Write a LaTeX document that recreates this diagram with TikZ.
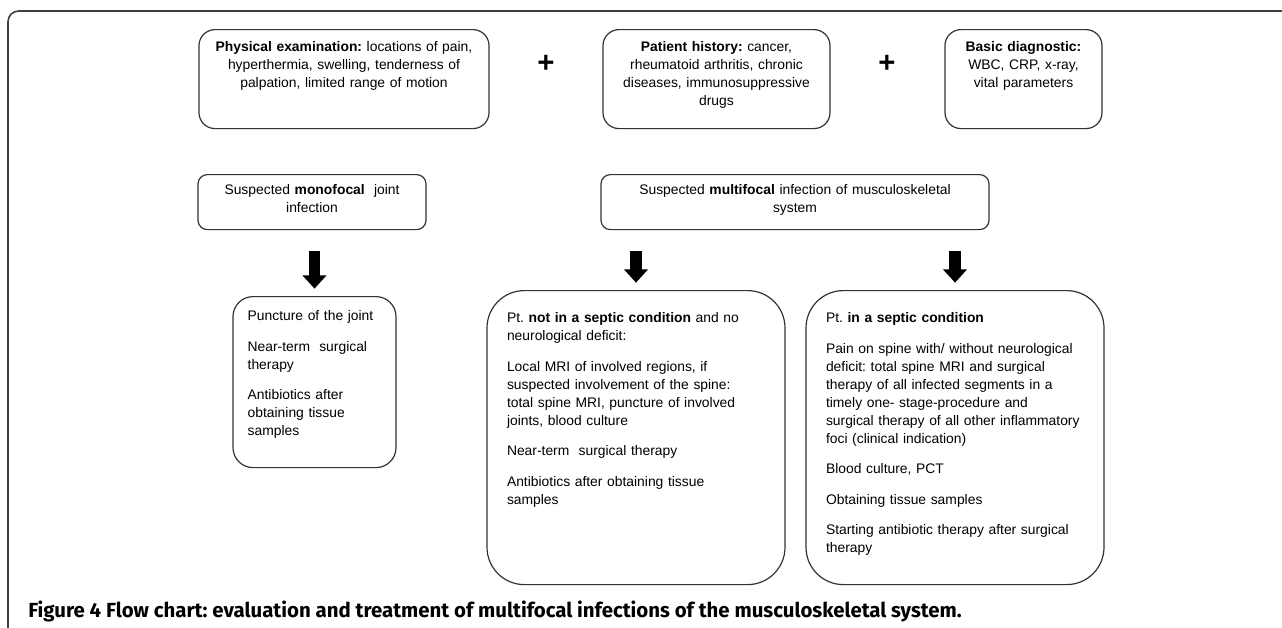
\documentclass[tikz,border=0pt]{standalone}
\usepackage{fontspec}
\setmainfont{Liberation Sans}
\newfontfamily\capfont{Fira Sans}
\usetikzlibrary{arrows.meta}
\frenchspacing

\begin{document}
\begin{tikzpicture}[
    x=0.75pt, y=-0.75pt,
    every node/.style = {
      font=\fontsize{10.4}{13.5}\selectfont,
      inner sep=0pt
    },
    card/.style = {
      draw=black!80, line width=0.9pt,
      anchor=north, text height=8pt
    },
    topcard/.style = {
      card, rounded corners=12pt, align=center,
      inner xsep=5pt, inner ysep=8.5pt, text depth=49.25pt
    },
    midcard/.style = {
      card, rounded corners=7pt, align=center,
      inner xsep=5pt, inner ysep=7pt, text depth=19.25pt
    },
    bigcard/.style = {
      card, rounded corners=28pt, align=left,
      inner xsep=15pt, inner ysep=16pt, text depth=180.5pt,
      text width=193.5pt
    },
    bigarrow/.style = {
      line width=8.5pt, -{Triangle[width=17.5pt,length=10pt]},
      shorten <=15.75pt, shorten >=5.5pt
    },
    frame/.style = {
      draw=black!75, line width=1.2pt, rounded corners=8pt
    }
  ]
    \useasboundingbox (0,0) rectangle (1282,628);
    \draw[frame] (8,660) -- (8,11) -- (1320,11);

    % First findings
    \node[topcard, text width=207.5pt] (exam) at (344,29)
      {\textbf{Physical examination:} locations of pain,\\
       hyperthermia, swelling, tenderness of\\
       palpation, limited range of motion};
    \node[topcard, text width=160.25pt] (history) at (716.5,29)
      {\textbf{Patient history:} cancer,\\
       rheumatoid arthritis, chronic\\
       diseases, immunosuppressive\\
       drugs};
    \node[topcard, text width=107.75pt] (basic) at (1023.5,29)
      {\textbf{Basic diagnostic:}\\
       WBC, CRP, x-ray,\\
       vital parameters};
    \node[font=\fontsize{22}{24}\selectfont\bfseries] (plusa) at (546,64) {+};
    \node[font=\fontsize{22}{24}\selectfont\bfseries] (plusb) at (887,64) {+};

    % Suspicion
    \node[midcard, text width=161pt] (mono) at (312,174)
      {Suspected \textbf{monofocal}\ \ joint\\ infection};
    \node[midcard, text width=281pt] (multi) at (795,174)
      {Suspected \textbf{multifocal} infection of musculoskeletal\\ system};

    % Treatment
    \node[card, rounded corners=15pt, align=left, inner xsep=11pt,
      inner ysep=10pt, text width=100.25pt, text depth=100.25pt]
      (puncture) at (314.5,296)
      {Puncture of the joint\\[9.4pt]
       Near-term\ \ surgical\\ therapy\\[9.4pt]
       Antibiotics after\\ obtaining tissue\\ samples};
    \node[bigcard] (notseptic) at (636,290)
      {Pt. \textbf{not in a septic condition} and no\\
       neurological deficit:\\[9.4pt]
       Local MRI of involved regions, if\\
       suspected involvement of the spine:\\
       total spine MRI, puncture of involved\\
       joints, blood culture\\[9.4pt]
       Near-term\ \ surgical therapy\\[9.4pt]
       Antibiotics after obtaining tissue\\
       samples};
    \node[bigcard] (septic) at (955,290)
      {Pt. \textbf{in a septic condition}\\[9.4pt]
       Pain on spine with/ without neurological\\
       deficit: total spine MRI and surgical\\
       therapy of all infected segments in a\\
       timely one- stage-procedure and\\
       surgical therapy of all other inflammatory\\
       foci (clinical indication)\\[9.4pt]
       Blood culture, PCT\\[9.4pt]
       Obtaining tissue samples\\[9.4pt]
       Starting antibiotic therapy after surgical\\
       therapy};

    \draw[bigarrow] (mono.south -| puncture.north) -- (puncture.north);
    \draw[bigarrow] (multi.south -| notseptic.north) -- (notseptic.north);
    \draw[bigarrow] (multi.south -| septic.north) -- (septic.north);

    \node[anchor=base west, font=\capfont\fontsize{15.3}{17}\selectfont\bfseries]
      (caption) at (28,617)
      {Figure 4 Flow chart: evaluation and treatment of multifocal infections of the musculoskeletal system.};
\end{tikzpicture}
\end{document}
